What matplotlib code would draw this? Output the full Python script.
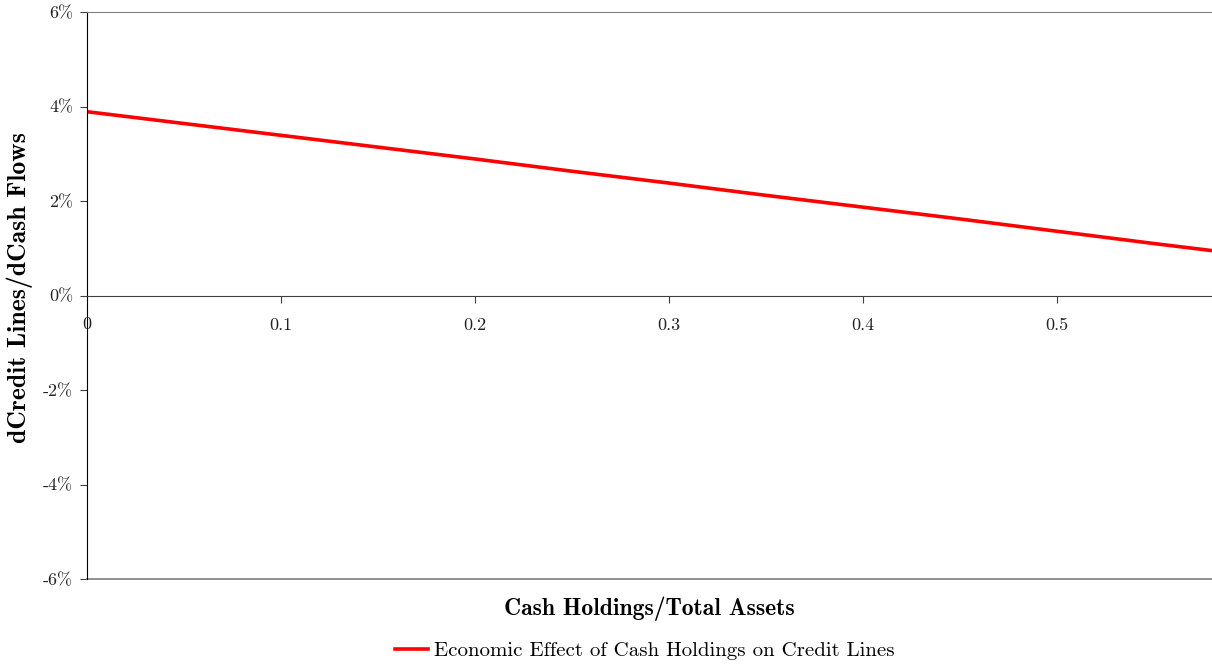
import matplotlib
matplotlib.use('Agg')
import matplotlib.pyplot as plt
from matplotlib.lines import Line2D

plt.rcParams['font.family'] = ['cmr10', 'DejaVu Serif']
plt.rcParams['axes.formatter.use_mathtext'] = True

# data (cash holdings ratio vs effect in %)
cash_ratio = [0.00, 0.05, 0.10, 0.15, 0.20, 0.25, 0.30, 0.35, 0.40, 0.45, 0.50, 0.55, 0.58]
effect_pct = [3.89, 3.64, 3.39, 3.14, 2.89, 2.63, 2.38, 2.12, 1.87, 1.62, 1.36, 1.10, 0.95]

x_ticks = [0.1, 0.2, 0.3, 0.4, 0.5]
x_labels = ['0.1', '0.2', '0.3', '0.4', '0.5']
y_ticks = [-6, -4, -2, 0, 2, 4, 6]
y_labels = ['-6%', '-4%', '-2%', '0%', '2%', '4%', '6%']

fig = plt.figure(figsize=(12.12, 6.65), dpi=100)
ax = fig.add_axes([87 / 1212, 1 - 579 / 665, 1 - 87 / 1212, (579 - 12) / 665])

ax.plot(cash_ratio, effect_pct, color='#ff0000', linewidth=2.6, solid_capstyle='butt')
ax.set_xlim(0, 0.58)
ax.set_ylim(-6, 6)

# axis at zero with ticks below, grey box lines top and bottom
ax.spines['bottom'].set_position(('data', 0))
ax.spines['bottom'].set_color('#404040')
ax.spines['right'].set_visible(False)
ax.spines['top'].set_color('#808080')
ax.spines['left'].set_color('#000000')
ax.axhline(-6, color='#909090', linewidth=1.4, clip_on=False)

ax.set_xticks(x_ticks)
ax.set_xticklabels(x_labels)
ax.set_yticks(y_ticks)
ax.set_yticklabels(y_labels)
ax.tick_params(axis='x', direction='out', length=5, pad=11, labelsize=13,
               color='#404040', labelcolor='#222222')
ax.tick_params(axis='y', direction='out', length=5, pad=5, labelsize=13,
               color='#404040', labelcolor='#222222')
ax.text(0, -0.61, '0', ha='center', va='center', fontsize=13, color='#222222')

fig.text(20 / 1212, 1 - 288 / 665, 'dCredit Lines/dCash Flows', rotation=90,
         ha='center', va='center', fontsize=18.5, family='cmb10')
fig.text(649 / 1212, 1 - 609 / 665, 'Cash Holdings/Total Assets',
         ha='center', va='center', fontsize=17, family='cmb10')

handle = Line2D([], [], color='#ff0000', linewidth=2.6)
fig.legend([handle], ['Economic Effect of Cash Holdings on Credit Lines'],
           loc='center', bbox_to_anchor=(645 / 1212, 1 - 651 / 665),
           frameon=False, fontsize=15, handlelength=1.6, handletextpad=0.3)

fig.savefig('out.png', dpi=100)
